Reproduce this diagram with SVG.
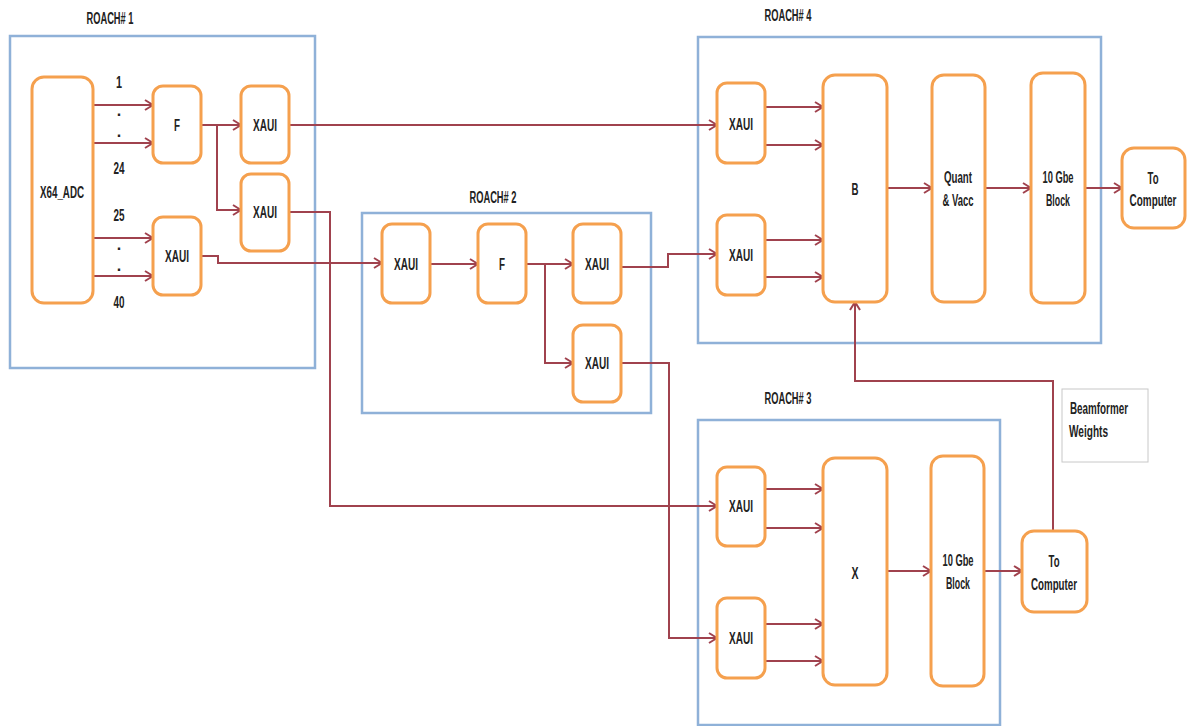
<svg xmlns="http://www.w3.org/2000/svg" width="1187" height="726" viewBox="0 0 1187 726">
<style>
.box{fill:#fff;stroke:#F5A04E;stroke-width:3}
.roach{fill:none;stroke:#8FB1D8;stroke-width:2.5}
.wt{fill:#fff;stroke:#C8C8C8;stroke-width:1}
.c{fill:none;stroke:#A0424E;stroke-width:2}
text{font-family:"Liberation Sans",Arial,sans-serif;font-size:16px;font-weight:bold;fill:#222;text-anchor:middle;dominant-baseline:central}
.lbl{font-size:16px}
</style>
<defs>
<marker id="ah" markerWidth="10" markerHeight="12" refX="9" refY="6" orient="auto" markerUnits="userSpaceOnUse">
<path d="M1,1 L9,6 L1,11" fill="none" stroke="#A0424E" stroke-width="2"/>
</marker>
</defs>
<rect width="1187" height="726" fill="#fff"/>

<g id="roach1">
<rect class="roach" x="10" y="36" width="305" height="332"/>
<text class="lbl" x="110" y="18" textLength="47" lengthAdjust="spacingAndGlyphs">ROACH# 1</text>
</g>
<g id="roach2">
<rect class="roach" x="362" y="213" width="289" height="200"/>
<text class="lbl" x="493" y="197" textLength="47" lengthAdjust="spacingAndGlyphs">ROACH# 2</text>
</g>
<g id="roach4">
<rect class="roach" x="698" y="37" width="403" height="306"/>
<text class="lbl" x="788" y="15" textLength="47" lengthAdjust="spacingAndGlyphs">ROACH# 4</text>
</g>
<g id="roach3">
<rect class="roach" x="698" y="420" width="302" height="305"/>
<text class="lbl" x="788" y="398" textLength="47" lengthAdjust="spacingAndGlyphs">ROACH# 3</text>
</g>

<g id="connectors">
<path class="c" d="M93,105 H153" marker-end="url(#ah)"/>
<path class="c" d="M93,143 H153" marker-end="url(#ah)"/>
<path class="c" d="M93,238 H153" marker-end="url(#ah)"/>
<path class="c" d="M93,276 H153" marker-end="url(#ah)"/>
<path class="c" d="M201,125 H241" marker-end="url(#ah)"/>
<path class="c" d="M217,125 V210 H241" marker-end="url(#ah)"/>
<path class="c" d="M289,125 H717" marker-end="url(#ah)"/>
<path class="c" d="M289,212 H330 V506 H717" marker-end="url(#ah)"/>
<path class="c" d="M201,256 H218 V263 H382" marker-end="url(#ah)"/>
<path class="c" d="M430,264 H478" marker-end="url(#ah)"/>
<path class="c" d="M526,264 H573" marker-end="url(#ah)"/>
<path class="c" d="M545,264 V363 H573" marker-end="url(#ah)"/>
<path class="c" d="M621,267 H668 V254 H717" marker-end="url(#ah)"/>
<path class="c" d="M621,363 H669 V638 H717" marker-end="url(#ah)"/>
<path class="c" d="M765,107 H823" marker-end="url(#ah)"/>
<path class="c" d="M765,145 H823" marker-end="url(#ah)"/>
<path class="c" d="M765,240 H823" marker-end="url(#ah)"/>
<path class="c" d="M765,277 H823" marker-end="url(#ah)"/>
<path class="c" d="M887,188 H932" marker-end="url(#ah)"/>
<path class="c" d="M985,188 H1031" marker-end="url(#ah)"/>
<path class="c" d="M1085,188 H1122" marker-end="url(#ah)"/>
<path class="c" d="M765,489 H823" marker-end="url(#ah)"/>
<path class="c" d="M765,528 H823" marker-end="url(#ah)"/>
<path class="c" d="M765,624 H823" marker-end="url(#ah)"/>
<path class="c" d="M765,661 H823" marker-end="url(#ah)"/>
<path class="c" d="M887,571 H931" marker-end="url(#ah)"/>
<path class="c" d="M984,571 H1022" marker-end="url(#ah)"/>
<path class="c" d="M1053,531 V381 H855 V302" marker-end="url(#ah)"/>
</g>

<g id="channel-labels">
<text x="119" y="82" textLength="6" lengthAdjust="spacingAndGlyphs">1</text>
<text x="119" y="110">.</text>
<text x="119" y="131">.</text>
<text x="119" y="168" textLength="11" lengthAdjust="spacingAndGlyphs">24</text>
<text x="119" y="215" textLength="11" lengthAdjust="spacingAndGlyphs">25</text>
<text x="119" y="244">.</text>
<text x="119" y="265">.</text>
<text x="119" y="302" textLength="11" lengthAdjust="spacingAndGlyphs">40</text>
</g>

<g id="adc"><rect class="box" x="32" y="77" width="61" height="226" rx="12"/><text x="62" y="192" textLength="44" lengthAdjust="spacingAndGlyphs">X64_ADC</text></g>
<g id="f1"><rect class="box" x="153" y="86" width="48" height="77" rx="10"/><text x="177" y="125" textLength="6" lengthAdjust="spacingAndGlyphs">F</text></g>
<g id="xaui1a"><rect class="box" x="241" y="86" width="48" height="77" rx="10"/><text x="265" y="125" textLength="24" lengthAdjust="spacingAndGlyphs">XAUI</text></g>
<g id="xaui1b"><rect class="box" x="241" y="174" width="48" height="77" rx="10"/><text x="265" y="212" textLength="24" lengthAdjust="spacingAndGlyphs">XAUI</text></g>
<g id="xaui1c"><rect class="box" x="153" y="217" width="48" height="78" rx="10"/><text x="177" y="256" textLength="24" lengthAdjust="spacingAndGlyphs">XAUI</text></g>

<g id="xaui2a"><rect class="box" x="382" y="224" width="48" height="79" rx="10"/><text x="406" y="264" textLength="24" lengthAdjust="spacingAndGlyphs">XAUI</text></g>
<g id="f2"><rect class="box" x="478" y="224" width="48" height="79" rx="10"/><text x="502" y="264" textLength="6" lengthAdjust="spacingAndGlyphs">F</text></g>
<g id="xaui2b"><rect class="box" x="573" y="224" width="48" height="79" rx="10"/><text x="597" y="264" textLength="24" lengthAdjust="spacingAndGlyphs">XAUI</text></g>
<g id="xaui2c"><rect class="box" x="573" y="325" width="48" height="77" rx="10"/><text x="597" y="363" textLength="24" lengthAdjust="spacingAndGlyphs">XAUI</text></g>

<g id="xaui4a"><rect class="box" x="717" y="83" width="48" height="80" rx="10"/><text x="741" y="124" textLength="24" lengthAdjust="spacingAndGlyphs">XAUI</text></g>
<g id="xaui4b"><rect class="box" x="717" y="215" width="48" height="80" rx="10"/><text x="741" y="255" textLength="24" lengthAdjust="spacingAndGlyphs">XAUI</text></g>
<g id="b"><rect class="box" x="823" y="75" width="64" height="227" rx="12"/><text x="855" y="189" textLength="7" lengthAdjust="spacingAndGlyphs">B</text></g>
<g id="quant"><rect class="box" x="932" y="75" width="53" height="227" rx="12"/><text x="958" y="177" textLength="28" lengthAdjust="spacingAndGlyphs">Quant</text><text x="958" y="200" textLength="31" lengthAdjust="spacingAndGlyphs">&amp; Vacc</text></g>
<g id="gbe4"><rect class="box" x="1031" y="73" width="54" height="230" rx="12"/><text x="1058" y="177" textLength="31" lengthAdjust="spacingAndGlyphs">10 Gbe</text><text x="1058" y="200" textLength="24" lengthAdjust="spacingAndGlyphs">Block</text></g>
<g id="tocomp4"><rect class="box" x="1122" y="148" width="63" height="80" rx="12"/><text x="1153" y="178" textLength="11" lengthAdjust="spacingAndGlyphs">To</text><text transform="translate(1153,201) scale(0.62,1)" x="0" y="0">Computer</text></g>

<g id="xaui3a"><rect class="box" x="717" y="467" width="48" height="79" rx="10"/><text x="741" y="506" textLength="24" lengthAdjust="spacingAndGlyphs">XAUI</text></g>
<g id="xaui3b"><rect class="box" x="717" y="598" width="48" height="80" rx="10"/><text x="741" y="638" textLength="24" lengthAdjust="spacingAndGlyphs">XAUI</text></g>
<g id="x"><rect class="box" x="823" y="458" width="64" height="227" rx="12"/><text x="855" y="573" textLength="7" lengthAdjust="spacingAndGlyphs">X</text></g>
<g id="gbe3"><rect class="box" x="931" y="456" width="53" height="230" rx="12"/><text x="958" y="560" textLength="31" lengthAdjust="spacingAndGlyphs">10 Gbe</text><text x="958" y="583" textLength="24" lengthAdjust="spacingAndGlyphs">Block</text></g>
<g id="tocomp3"><rect class="box" x="1022" y="531" width="65" height="81" rx="12"/><text x="1054" y="561" textLength="11" lengthAdjust="spacingAndGlyphs">To</text><text x="1054" y="584" textLength="46" lengthAdjust="spacingAndGlyphs">Computer</text></g>

<g id="weights"><rect class="wt" x="1062" y="389" width="86" height="73"/><text x="1070" y="408" style="text-anchor:start" textLength="58" lengthAdjust="spacingAndGlyphs">Beamformer</text><text x="1069" y="431" style="text-anchor:start" textLength="39" lengthAdjust="spacingAndGlyphs">Weights</text></g>
</svg>
